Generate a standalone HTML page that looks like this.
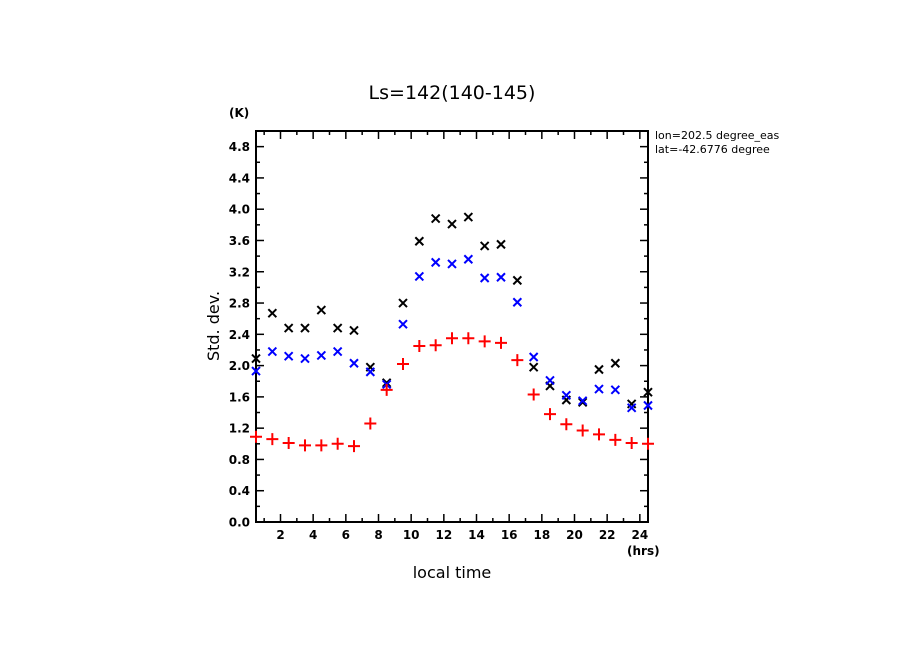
<!DOCTYPE html>
<html><head><meta charset="utf-8"><style>
body{margin:0;background:#fff;}
svg{display:block;font-family:"DejaVu Sans","Liberation Sans",sans-serif;}
</style></head><body>
<svg id="chart" width="904" height="654">
<defs><clipPath id="annclip"><rect x="650" y="120" width="129" height="40"/></clipPath></defs>
<text x="452" y="99" font-size="19" text-anchor="middle">Ls=142(140-145)</text>
<text x="229" y="117" font-size="12" font-weight="bold">(K)</text>
<text x="627" y="555" font-size="12" font-weight="bold">(hrs)</text>
<g clip-path="url(#annclip)">
<text x="655" y="139" font-size="11">lon=202.5 degree_east</text>
<text x="655" y="153" font-size="11">lat=-42.6776 degree</text>
</g>
<text x="452" y="578" font-size="16" text-anchor="middle">local time</text>
<text transform="translate(219,326) rotate(-90)" font-size="16" text-anchor="middle">Std. dev.</text>
<g id="axes"></g><g id="marks"></g>
</svg>
<script>
const hours=[0.5,1.5,2.5,3.5,4.5,5.5,6.5,7.5,8.5,9.5,10.5,11.5,12.5,13.5,14.5,15.5,16.5,17.5,18.5,19.5,20.5,21.5,22.5,23.5,24.5];
const blackSeries=[2.09,2.67,2.48,2.48,2.71,2.48,2.45,1.98,1.78,2.80,3.59,3.88,3.81,3.90,3.53,3.55,3.09,1.98,1.74,1.56,1.53,1.95,2.03,1.51,1.66];
const blueSeries=[1.93,2.18,2.12,2.09,2.13,2.18,2.03,1.92,1.76,2.53,3.14,3.32,3.30,3.36,3.12,3.13,2.81,2.11,1.81,1.62,1.55,1.70,1.69,1.46,1.49];
const redSeries=[1.09,1.06,1.01,0.98,0.98,1.00,0.97,1.26,1.69,2.02,2.25,2.26,2.35,2.35,2.31,2.29,2.07,1.63,1.38,1.25,1.17,1.12,1.05,1.01,1.00];
const yTicks=["0.0","0.4","0.8","1.2","1.6","2.0","2.4","2.8","3.2","3.6","4.0","4.4","4.8"];
const xTicks=["2","4","6","8","10","12","14","16","18","20","22","24"];
const X0=256,X1=648,Y0=522,Y1=131,xmin=0.5,xmax=24.5,ymin=0,ymax=5;
const sx=v=>X0+(v-xmin)/(xmax-xmin)*(X1-X0);
const sy=v=>Y0-(v-ymin)/(ymax-ymin)*(Y0-Y1);
const NS="http://www.w3.org/2000/svg";
const axes=document.getElementById('axes'),marks=document.getElementById('marks');
function mk(tag,at,parent){const e=document.createElementNS(NS,tag);for(const k in at)e.setAttribute(k,at[k]);parent.appendChild(e);return e;}
const frame=mk('rect',{x:X0,y:Y1,width:X1-X0,height:Y0-Y1,fill:'none',stroke:'#000','stroke-width':2},axes);


for(let v=0;v<=ymax+1e-9;v+=0.2){const maj=Math.abs(v/0.4-Math.round(v/0.4))<1e-6;const L=maj?8:4;const y=sy(v);
 const t1=mk('line',{x1:X0,x2:X0+L,y1:y,y2:y,stroke:'#000','stroke-width':1.5},axes);
 
 
 const t2=mk('line',{x1:X1,x2:X1-L,y1:y,y2:y,stroke:'#000','stroke-width':1.5},axes);
 
 }
yTicks.forEach(s=>{const t=mk('text',{x:X0-6,y:sy(parseFloat(s))+4.5,'font-size':12,'font-weight':'bold','text-anchor':'end'},axes);t.textContent=s;
 
 });
for(let h=1;h<=24;h++){const maj=h%2==0;const L=maj?8:4;const x=sx(h);
 const t1=mk('line',{x1:x,x2:x,y1:Y0,y2:Y0-L,stroke:'#000','stroke-width':1.5},axes);
 
 
 const t2=mk('line',{x1:x,x2:x,y1:Y1,y2:Y1+L,stroke:'#000','stroke-width':1.5},axes);
 
 }
xTicks.forEach(s=>{const t=mk('text',{x:sx(parseFloat(s)),y:Y0+17,'font-size':12,'font-weight':'bold','text-anchor':'middle'},axes);t.textContent=s;
 
 });
function xm(x,y,c,name){const g=mk('path',{d:`M${x-4},${y-4}L${x+4},${y+4}M${x-4},${y+4}L${x+4},${y-4}`,stroke:c,'stroke-width':2,fill:'none'},marks);
 
 }
function pm(x,y,c,name){const g=mk('path',{d:`M${x-6},${y}L${x+6},${y}M${x},${y-6}L${x},${y+6}`,stroke:c,'stroke-width':2,fill:'none'},marks);
 
 }
hours.forEach((h,i)=>{
 xm(sx(h),sy(blackSeries[i]),'#000','black-point');
 xm(sx(h),sy(blueSeries[i]),'#0000ff','blue-point');
 pm(sx(h),sy(redSeries[i]),'#ff0000','red-point');
});
</script>
</body></html>
